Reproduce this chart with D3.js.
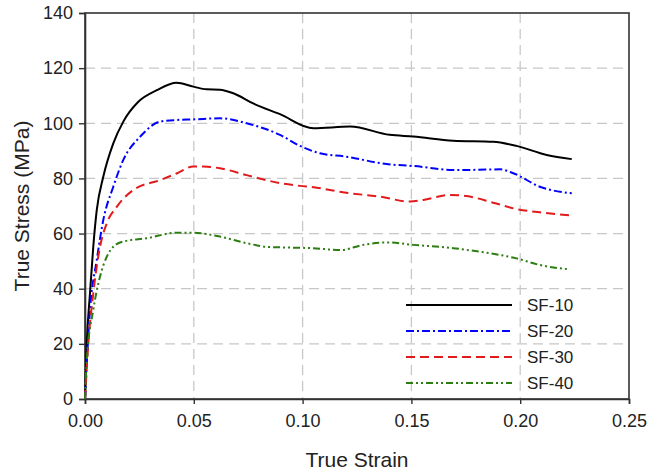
<!DOCTYPE html>
<html><head><meta charset="utf-8">
<script src="https://cdn.jsdelivr.net/npm/d3@7"></script>
<style>body{margin:0;background:#fff}svg{display:block;font-family:"Liberation Sans",Arial,sans-serif}</style>
</head><body>
<svg id="c" width="649" height="472"></svg>
<script>
const xTicks = [0, 0.05, 0.10, 0.15, 0.20, 0.25];
const yTicks = [0, 20, 40, 60, 80, 100, 120, 140];
const seriesNames = ["SF-10", "SF-20", "SF-30", "SF-40"];

const strain10 = [0, 0.0008, 0.0023, 0.0038, 0.0054, 0.0084, 0.013, 0.0176, 0.0245, 0.033, 0.0421, 0.0498, 0.0559, 0.062, 0.0682, 0.0773, 0.0896, 0.105, 0.1218, 0.140, 0.1509, 0.1692, 0.1876, 0.1983, 0.2122, 0.2237];
const stress10 = [0, 20, 38.4, 55.2, 68.5, 80.6, 92.7, 100.6, 107.8, 112, 114.7, 113.3, 112.3, 112.2, 110.9, 107.2, 103.3, 98.2, 98.8, 95.8, 95.2, 93.7, 93.3, 91.8, 88.5, 87];

const strain20 = [0, 0.0023, 0.0054, 0.0084, 0.013, 0.0176, 0.0253, 0.0345, 0.0421, 0.0498, 0.062, 0.0743, 0.0896, 0.0988, 0.108, 0.120, 0.1386, 0.1509, 0.1692, 0.1784, 0.1907, 0.1968, 0.209, 0.2237];
const stress20 = [0, 32.3, 50.4, 64.9, 77, 86.7, 95.1, 100.6, 101.2, 101.4, 101.8, 100, 95.8, 91.8, 89.1, 87.9, 85.2, 84.5, 83.1, 83.1, 83.3, 81.9, 77, 74.6];

const strain30 = [0, 0.0015, 0.0038, 0.0069, 0.01, 0.0146, 0.0222, 0.0345, 0.0421, 0.0498, 0.0544, 0.062, 0.0743, 0.0896, 0.0988, 0.105, 0.120, 0.1355, 0.1494, 0.1555, 0.1677, 0.1754, 0.1876, 0.1983, 0.209, 0.2228];
const stress30 = [0, 20, 38.3, 55.2, 63.7, 69.7, 75.8, 79.4, 81.8, 84.3, 84.3, 83.7, 81.2, 78.3, 77.3, 76.8, 74.8, 73.4, 71.6, 72.2, 74, 73.6, 71.2, 68.9, 67.7, 66.6];

const strain40 = [0, 0.0008, 0.0038, 0.0069, 0.01, 0.013, 0.0176, 0.0283, 0.0421, 0.0498, 0.062, 0.0743, 0.0835, 0.0896, 0.105, 0.1172, 0.1279, 0.1386, 0.1509, 0.1692, 0.1815, 0.1983, 0.209, 0.2228];
const stress40 = [0, 14.1, 32.3, 44.4, 51.6, 55.2, 57.1, 58.3, 60.3, 60.3, 58.9, 56.5, 55.2, 55, 54.7, 54, 55.9, 56.8, 55.9, 54.7, 53.4, 51, 48.6, 47];

const seriesColors = ["#000000", "#0000ff", "#e31a1c", "#2e7d12"];
const seriesDash = ["", "8,3,2,3", "9,5", "7,3,2,3,2,3"];

const strains = [strain10, strain20, strain30, strain40];
const stresses = [stress10, stress20, stress30, stress40];

const svg = d3.select("#c");
const L = 85, T = 13, W = 544, H = 386;
const x = d3.scaleLinear().domain([0, 0.25]).range([L, L + W]);
const y = d3.scaleLinear().domain([0, 140]).range([T + H, T]);

// grid
const g = svg.append("g");
g.selectAll(".gx").data(xTicks.filter(d => d > 0 && d < 0.25)).enter().append("line")
  .attr("x1", d => x(d)).attr("x2", d => x(d)).attr("y1", T).attr("y2", T + H)
  .attr("stroke", "#c8c8c8").attr("stroke-width", 1.3).attr("stroke-dasharray", "10,6");
g.selectAll(".gy").data(yTicks.filter(d => d > 0 && d < 140)).enter().append("line")
  .attr("x1", L).attr("x2", L + W).attr("y1", d => y(d)).attr("y2", d => y(d))
  .attr("stroke", "#c8c8c8").attr("stroke-width", 1.3).attr("stroke-dasharray", "10,6");

// frame
svg.append("rect").attr("x", L).attr("y", T).attr("width", W).attr("height", H)
  .attr("fill", "none").attr("stroke", "#333").attr("stroke-width", 1.6);

// axes
const xAxis = svg.append("g").attr("transform", `translate(0,${T + H})`)
  .call(d3.axisBottom(x).tickValues(xTicks).tickFormat(d3.format(".2f")).tickSize(5).tickPadding(10));
const yAxis = svg.append("g").attr("transform", `translate(${L},0)`)
  .call(d3.axisLeft(y).tickValues(yTicks).tickFormat(d3.format("d")).tickSize(6).tickPadding(6));
[xAxis, yAxis].forEach(a => {
  a.select(".domain").attr("stroke", "#333").attr("stroke-width", 1.6);
  a.selectAll(".tick line").attr("stroke", "#333").attr("stroke-width", 1.4);
  a.selectAll("text").attr("font-size", 18).attr("fill", "#222").attr("font-family", "Liberation Sans, Arial, sans-serif");
});

// titles
svg.append("text").attr("x", L + W / 2).attr("y", 467).attr("text-anchor", "middle")
  .attr("font-size", 21).attr("fill", "#222").text("True Strain");
svg.append("text").attr("transform", `translate(29,${T + H / 2}) rotate(-90)`).attr("text-anchor", "middle")
  .attr("font-size", 21).attr("fill", "#222").text("True Stress (MPa)");

// lines
const line = d3.line().x(d => x(d[0])).y(d => y(d[1])).curve(d3.curveMonotoneX);
seriesNames.forEach((n, i) => {
  const pts = strains[i].map((s, j) => [s, stresses[i][j]]);
  svg.append("path").datum(pts).attr("d", line).attr("fill", "none")
    .attr("stroke", seriesColors[i]).attr("stroke-width", 2)
    .attr("stroke-dasharray", seriesDash[i] || null);
});

// legend
const legY = [305, 331, 357, 383];
seriesNames.forEach((n, i) => {
  svg.append("line").attr("x1", 406).attr("x2", 512).attr("y1", legY[i]).attr("y2", legY[i])
    .attr("stroke", seriesColors[i]).attr("stroke-width", 2)
    .attr("stroke-dasharray", seriesDash[i] || null);
  svg.append("text").attr("x", 527).attr("y", legY[i] + 6).attr("font-size", 17).attr("fill", "#222").text(n);
});
</script>
</body></html>
